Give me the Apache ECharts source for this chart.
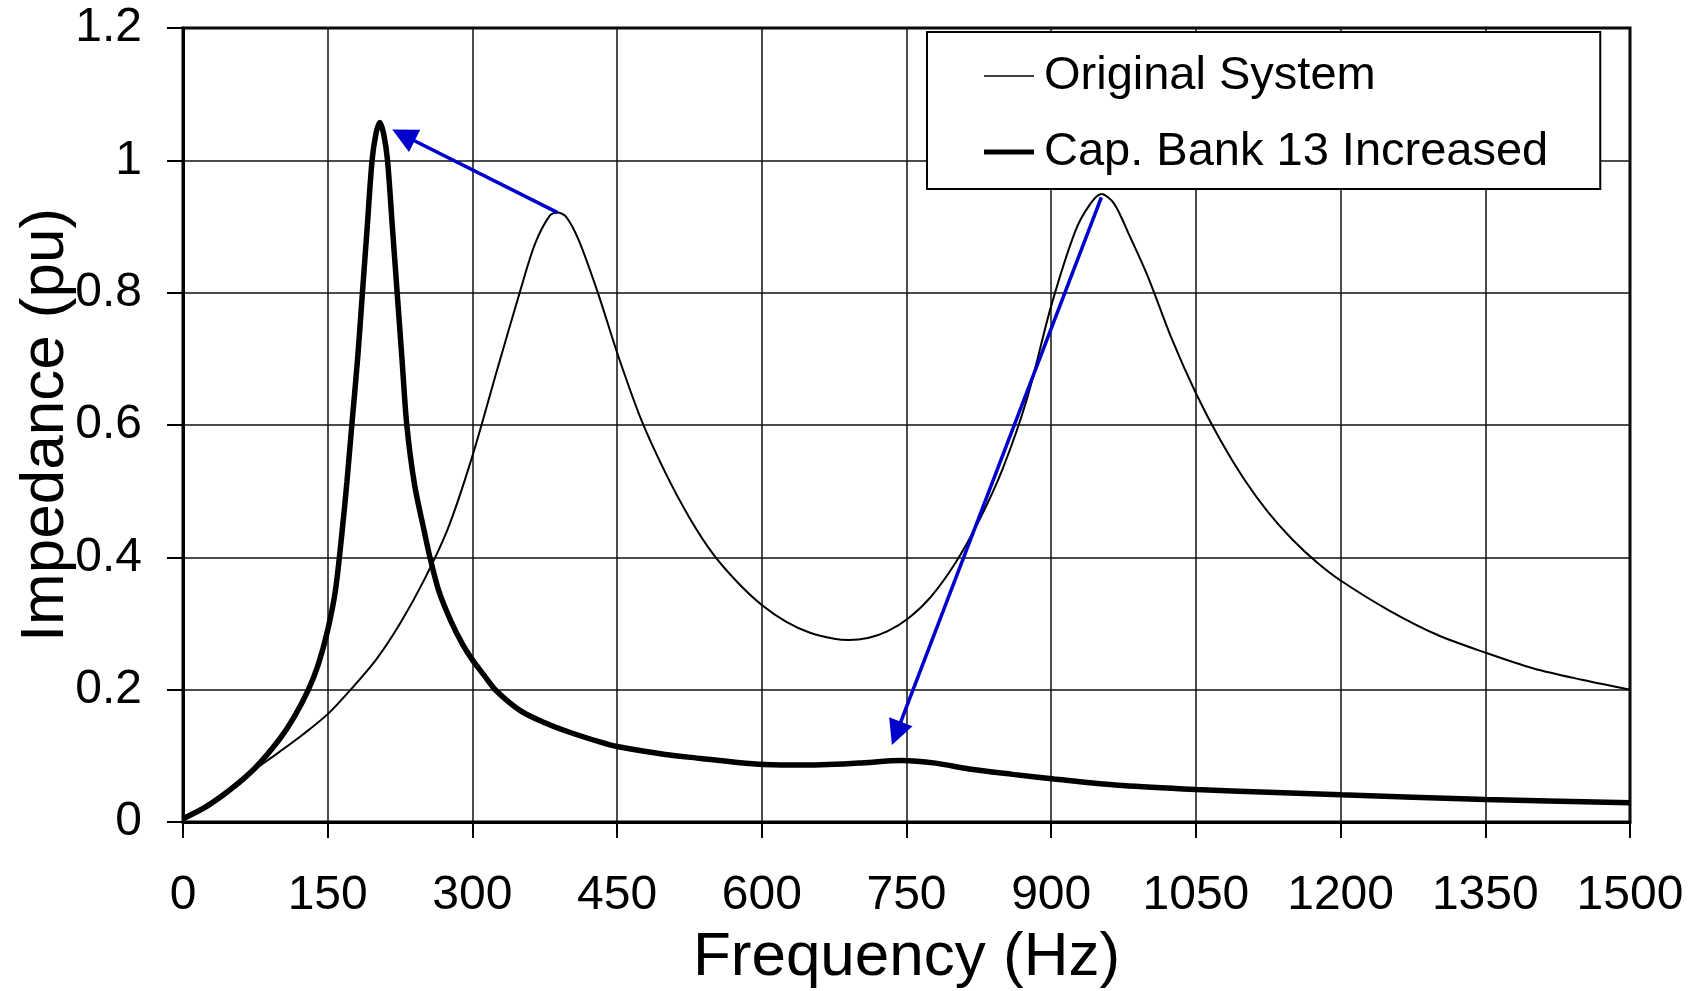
<!DOCTYPE html>
<html lang="en">
<head>
    <meta charset="utf-8">
    <title>Impedance vs Frequency</title>
    <script src="https://cdn.jsdelivr.net/npm/echarts@6/dist/echarts.min.js"></script>
    <style>
        html, body {margin: 0; padding: 0; background: #fff;}
        #main {width: 1706px; height: 991px;}
    </style>
</head>
<body>
<div id="main"></div>
<script type="text/javascript">
    // values
    var origFreq = [0, 25, 50, 75, 100, 125, 150, 175, 200, 225, 250, 275, 300, 325, 350, 365, 380, 388, 397, 410, 430, 451, 475, 500, 525, 550, 575, 600, 625, 650, 675, 690, 710, 730, 752, 775, 800, 825, 850, 875, 900, 925, 940, 952, 965, 980, 1000, 1025, 1050, 1075, 1100, 1125, 1150, 1175, 1200, 1250, 1300, 1350, 1400, 1450, 1500];
    var origImp = [0.005, 0.027, 0.053, 0.080, 0.106, 0.133, 0.163, 0.202, 0.245, 0.300, 0.366, 0.445, 0.553, 0.680, 0.805, 0.874, 0.916, 0.921, 0.915, 0.880, 0.800, 0.705, 0.608, 0.528, 0.460, 0.404, 0.362, 0.328, 0.303, 0.286, 0.277, 0.275, 0.278, 0.288, 0.308, 0.340, 0.390, 0.455, 0.535, 0.640, 0.780, 0.893, 0.933, 0.949, 0.935, 0.890, 0.825, 0.730, 0.648, 0.578, 0.518, 0.468, 0.427, 0.393, 0.365, 0.320, 0.283, 0.256, 0.232, 0.215, 0.200];

    var capFreq = [0, 25, 50, 75, 100, 115, 130, 140, 150, 158, 165, 170, 175, 181, 186, 191, 196, 200, 204, 208, 212, 217, 222, 227, 232, 240, 250, 256, 265, 277, 290, 300, 312, 325, 350, 375, 400, 432, 450, 500, 537, 575, 602, 641, 700, 745, 780, 815, 860, 903, 974, 1050, 1125, 1200, 1350, 1500];
    var capImp = [0.005, 0.024, 0.050, 0.082, 0.125, 0.158, 0.200, 0.237, 0.290, 0.350, 0.440, 0.515, 0.600, 0.700, 0.800, 0.900, 1.000, 1.040, 1.057, 1.040, 1.000, 0.900, 0.800, 0.700, 0.600, 0.510, 0.440, 0.400, 0.350, 0.306, 0.268, 0.245, 0.222, 0.198, 0.168, 0.150, 0.136, 0.121, 0.114, 0.102, 0.096, 0.090, 0.087, 0.086, 0.089, 0.093, 0.089, 0.080, 0.072, 0.065, 0.055, 0.049, 0.045, 0.041, 0.034, 0.029];

    var seriesNames = ['Original System', 'Cap. Bank 13 Increased'];
    var legendIcons = ['path://M0,0L50,0L50,1.6L0,1.6Z', 'path://M0,0L50,0L50,5L0,5Z'];

    // blue arrows: from -> to (data coords)
    var arrowFrom = [[388.4, 0.921], [952, 0.944]];
    var arrowTo = [[228.5, 1.038], [739.5, 0.134]];

    var xTicks = {min: 0, max: 1500, interval: 150};
    var yTicks = {min: 0, max: 1.2, interval: 0.2};

    function pairs(xs, ys) {
        var out = [];
        for (var i = 0; i < xs.length; i++) out.push([xs[i], ys[i]]);
        return out;
    }

    var arrowData = [];
    for (var i = 0; i < arrowFrom.length; i++) {
        arrowData.push([{coord: arrowFrom[i]}, {coord: arrowTo[i]}]);
    }

    var font = '"Liberation Sans", Arial, sans-serif';
    var myChart = echarts.init(document.getElementById('main'));
    var option = {
        animation: false,
        backgroundColor: '#fff',
        textStyle: {fontFamily: font, color: '#000'},
        grid: {
            left: 183, right: 76, top: 28, bottom: 169,
            outerBoundsMode: 'none',
            containLabel: false,
            show: true, borderColor: '#000', borderWidth: 3, backgroundColor: 'transparent'
        },
        legend: {
            orient: 'vertical',
            left: 927, top: 32,
            padding: [16, 52, 9, 57],
            itemGap: 20,
            itemWidth: 50, itemHeight: 14,
            backgroundColor: '#fff',
            borderColor: '#000', borderWidth: 2,
            textStyle: {fontFamily: font, fontSize: 47, color: '#000', lineHeight: 56, padding: [0, 0, 0, 5]},
            data: [
                {name: seriesNames[0], icon: legendIcons[0], itemStyle: {color: '#000', borderWidth: 0}},
                {name: seriesNames[1], icon: legendIcons[1], itemStyle: {color: '#000', borderWidth: 0}}
            ]
        },
        xAxis: {
            type: 'value',
            min: xTicks.min, max: xTicks.max, interval: xTicks.interval,
            name: 'Frequency (Hz)',
            nameLocation: 'middle',
            nameGap: 105,
            nameMoveOverlap: false,
            nameTextStyle: {fontFamily: font, fontSize: 62, color: '#000'},
            axisLine: {show: true, onZero: false, lineStyle: {color: '#000', width: 3}},
            axisTick: {show: true, inside: false, length: 16, lineStyle: {color: '#000', width: 2}},
            axisLabel: {
                fontFamily: font, fontSize: 48, color: '#000', margin: 50,
                formatter: function (v) { return String(v); }
            },
            splitLine: {show: true, lineStyle: {color: '#111', width: 1.5}}
        },
        yAxis: {
            type: 'value',
            min: yTicks.min, max: yTicks.max, interval: yTicks.interval,
            name: 'Impedance (pu)',
            nameLocation: 'middle',
            nameGap: 106,
            nameMoveOverlap: false,
            nameTextStyle: {fontFamily: font, fontSize: 62, color: '#000'},
            axisLine: {show: true, lineStyle: {color: '#000', width: 3}},
            axisTick: {show: true, inside: false, length: 16, lineStyle: {color: '#000', width: 2}},
            axisLabel: {fontFamily: font, fontSize: 48, color: '#000', margin: 41},
            splitLine: {show: true, lineStyle: {color: '#111', width: 1.5}}
        },
        series: [
            {
                name: seriesNames[0],
                type: 'line',
                data: pairs(origFreq, origImp),
                showSymbol: false,
                symbol: 'none',
                smooth: 0.3,
                lineStyle: {color: '#000', width: 2},
                itemStyle: {color: '#000'},
                z: 3,
                markLine: {
                    silent: true,
                    symbol: ['none', 'triangle'],
                    symbolSize: [25, 25],
                    label: {show: false},
                    lineStyle: {color: '#0000CC', width: 3.5, type: 'solid'},
                    itemStyle: {color: '#0000CC'},
                    emphasis: {disabled: true},
                    data: arrowData
                }
            },
            {
                name: seriesNames[1],
                type: 'line',
                data: pairs(capFreq, capImp),
                showSymbol: false,
                symbol: 'none',
                smooth: 0.3,
                lineStyle: {color: '#000', width: 5.5},
                itemStyle: {color: '#000'},
                z: 4
            }
        ]
    };
    myChart.setOption(option);
</script>
</body>
</html>
